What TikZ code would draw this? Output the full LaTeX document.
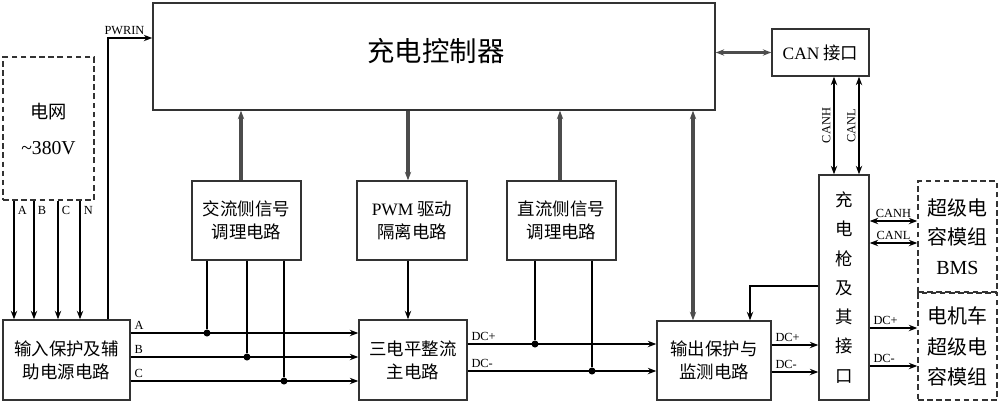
\documentclass[tikz,border=0pt]{standalone}
\usepackage{fontspec}
\setmainfont{Liberation Serif}
\newfontfamily\cjk{Noto Sans CJK SC}
\usetikzlibrary{arrows.meta}
\tikzset{>={Stealth[length=6pt,width=4.5pt]}}
\tikzset{
  blk/.style={draw=black!80, line width=1pt, inner sep=0pt, align=center,
    font=\cjk\fontsize{12.4}{16.5}\selectfont},
  dblk/.style={blk, dash pattern=on 4pt off 2.5pt},
  wire/.style={line width=1.4pt},
  sig/.style={line width=1.1pt},
  bus/.style={draw=black!70, line width=2.2pt},
  lbl/.style={font=\rmfamily\fontsize{8.8}{10}\selectfont, inner sep=2pt},
  dot/.style={circle, fill, inner sep=0pt, minimum size=5pt}
}

\begin{document}
\begin{tikzpicture}[x=0.025cm, y=-0.025cm]
\useasboundingbox (0,0) rectangle (1000,404);
% blocks
\node[blk, minimum width=14.05cm, minimum height=2.675cm] (ctrl) at (434,56.5) {};
\node[font=\cjk\fontsize{19.5}{23}\selectfont] (ctrltxt) at (436,51) {充电控制器};
\node[blk, minimum width=2.425cm, minimum height=1.175cm] (can) at (820.5,52.5) {{\rmfamily CAN} 接口};
\node[dblk, minimum width=2.275cm, minimum height=3.575cm,
  font=\cjk\fontsize{13}{25.6}\selectfont] (grid) at (48.5,128.5) {电网\\{\rmfamily\fontsize{14}{25.6}\selectfont\textasciitilde380V}};
\node[blk, minimum width=3.175cm, minimum height=2cm] (input) at (66.5,360) {输入保护及辅\\助电源电路};
\node[blk, minimum width=2.725cm, minimum height=1.975cm] (acsig) at (246.5,220.5) {交流侧信号\\调理电路};
\node[blk, minimum width=2.75cm, minimum height=1.975cm] (pwm) at (412,220.5) {{\rmfamily PWM} 驱动\\隔离电路};
\node[blk, minimum width=2.725cm, minimum height=1.975cm] (dcsig) at (561.5,220.5) {直流侧信号\\调理电路};
\node[blk, minimum width=2.7cm, minimum height=2cm] (rect) at (413,360) {三电平整流\\主电路};
\node[blk, minimum width=2.85cm, minimum height=1.975cm] (outp) at (714,360.5) {输出保护与\\监测电路};
\node[blk, minimum width=1.25cm, minimum height=5.625cm,
  font=\cjk\fontsize{12.4}{20.8}\selectfont] (gun) at (844,287.5) {充\\电\\枪\\及\\其\\接\\口};
\node[dblk, minimum width=1.975cm, minimum height=2.775cm,
  font=\cjk\fontsize{14.2}{21}\selectfont] (bms) at (957.5,236.5) {超级电\\容模组\\{\rmfamily BMS}};
\node[dblk, minimum width=1.975cm, minimum height=2.675cm,
  font=\cjk\fontsize{14.2}{21.5}\selectfont] (motor) at (957.5,346.5) {电机车\\超级电\\容模组};
% junctions
\node[dot] (ja) at (207,333) {};
\node[dot] (jb) at (247,357) {};
\node[dot] (jc) at (284,381) {};
\node[dot] (jp) at (535,344) {};
\node[dot] (jm) at (592,371) {};
% grid to input
\foreach \x/\n in {14/A,34/B,58/C,80/N}
  \draw[wire,->] (grid.south -| \x,0) -- (input.north -| \x,0) node[pos=0.08, right, lbl] {\n};
\draw[sig,->] (input.north -| 108,0) |- (ctrl.west |- 0,38) node[pos=0.5, anchor=south west, lbl, xshift=-5pt] {PWRIN};
% three phase lines
\draw[wire,->] (input.east |- ja) -- (rect.west |- ja) node[pos=0, above right, lbl] {A};
\draw[wire,->] (input.east |- jb) -- (rect.west |- jb) node[pos=0, above right, lbl] {B};
\draw[wire,->] (input.east |- jc) -- (rect.west |- jc) node[pos=0, above right, lbl] {C};
\draw[sig] (acsig.south -| ja) -- (ja);
\draw[sig] (acsig.south -| jb) -- (jb);
\draw[sig] (acsig.south -| jc) -- (jc);
% dc lines
\draw[wire,->] (rect.east |- jp) -- (outp.west |- jp) node[pos=0, above right, lbl] {DC+};
\draw[wire,->] (rect.east |- jm) -- (outp.west |- jm) node[pos=0, above right, lbl] {DC-};
\draw[sig] (dcsig.south -| jp) -- (jp);
\draw[sig] (dcsig.south -| jm) -- (jm);
\draw[wire,->] (outp.east |- 0,345) -- (gun.west |- 0,345) node[pos=0, above right, lbl] {DC+};
\draw[wire,->] (outp.east |- 0,372) -- (gun.west |- 0,372) node[pos=0, above right, lbl] {DC-};
\draw[wire,->] (gun.east |- 0,328) -- (motor.west |- 0,328) node[pos=0, above right, lbl] {DC+};
\draw[wire,->] (gun.east |- 0,366) -- (motor.west |- 0,366) node[pos=0, above right, lbl] {DC-};
\draw[sig,->] (gun.west |- 0,286) -| (outp.north -| 750,0);
% controller buses
\draw[bus,->] (acsig.north -| 241,0) -- (ctrl.south -| 241,0);
\draw[bus,->] (ctrl.south -| 408,0) -- (pwm.north -| 408,0);
\draw[wire,->] (pwm.south -| 408,0) -- (rect.north -| 408,0);
\draw[bus,->] (dcsig.north -| 560,0) -- (ctrl.south -| 560,0);
\draw[bus,<->] (ctrl.south -| 693,0) -- (outp.north -| 693,0);
\draw[bus,<->] (ctrl.east |- can) -- (can.west);
% can lines
\draw[sig,<->] (can.south -| 834,0) -- (gun.north -| 834,0) node[midway, rotate=90, anchor=south, lbl] {CANH};
\draw[sig,<->] (can.south -| 859,0) -- (gun.north -| 859,0) node[midway, rotate=90, anchor=south, lbl] {CANL};
\draw[sig,<->] (gun.east |- 0,221) -- (bms.west |- 0,221) node[midway, above, lbl] {CANH};
\draw[sig,<->] (gun.east |- 0,243) -- (bms.west |- 0,243) node[midway, above, lbl] {CANL};
\end{tikzpicture}
\end{document}
